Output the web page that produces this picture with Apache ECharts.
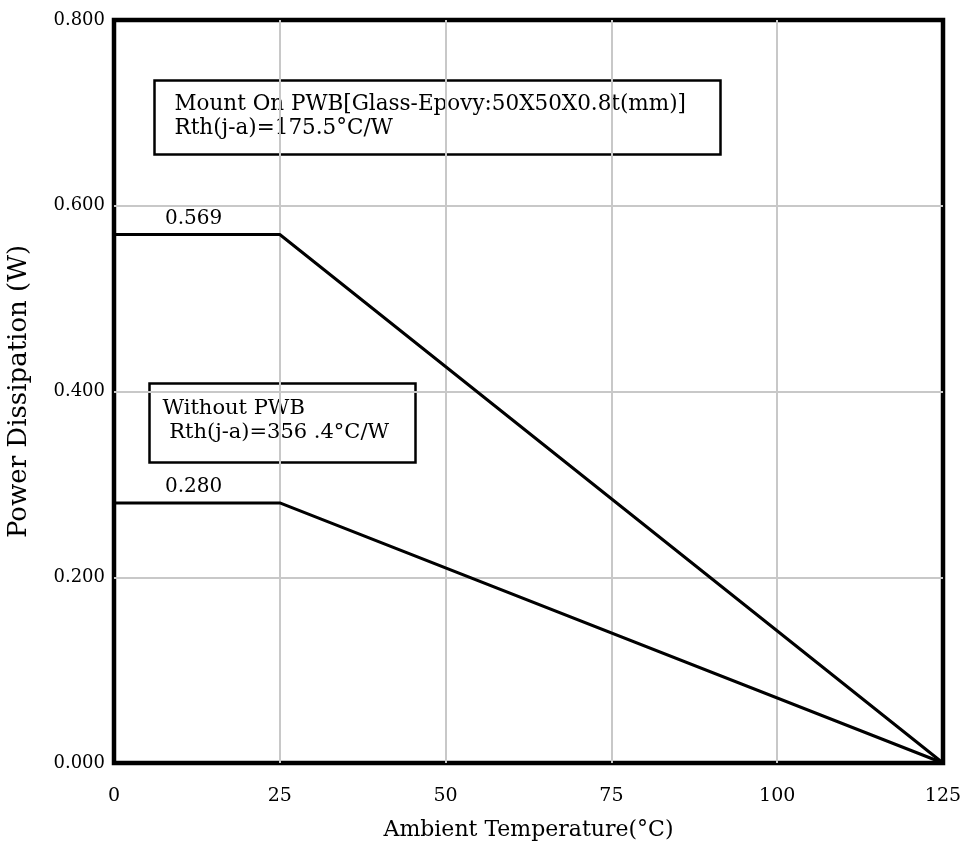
<!DOCTYPE html>
<html>
<head>
<meta charset="utf-8">
<script src="https://cdn.jsdelivr.net/npm/echarts@6/dist/echarts.min.js"></script>
<style>
  html, body { margin: 0; padding: 0; background: #fff; }
  #chart { width: 972px; height: 853px; }
</style>
</head>
<body>
<div id="chart"></div>
<script>
// 温度 (°C) 与功耗 (W)
const temps = [0, 25, 125]
const mountOnPwb = [0.569, 0.569, 0]
const withoutPwb = [0.280, 0.280, 0]
const xTicks = [0, 25, 50, 75, 100, 125]
const yTicks = [0, 0.2, 0.4, 0.6, 0.8]

const FONT = 'DejaVu Serif'

function toPairs(xs, ys) {
  return xs.map((x, i) => [x, ys[i]])
}

// 平台段上方的数值标注
function valueLabel(x, y, text) {
  return {
    coord: [x, y],
    symbol: 'circle',
    symbolSize: 0,
    label: {
      show: true, formatter: text, position: 'top', distance: 6,
      color: '#000', fontFamily: FONT, fontSize: 20
    }
  }
}

const chart = echarts.init(document.getElementById('chart'))

chart.setOption({
  animation: false,
  grid: {
    left: 114, right: 29, top: 20, bottom: 90,
    outerBoundsMode: 'none',
    containLabel: false,
    show: true, borderColor: '#000', borderWidth: 4.5, backgroundColor: 'transparent'
  },
  xAxis: {
    type: 'value', min: xTicks[0], max: xTicks[xTicks.length - 1], interval: 25,
    axisLine: { show: false },
    axisTick: { show: false },
    axisLabel: { color: '#000', fontFamily: FONT, fontSize: 19, margin: 24 },
    splitLine: {
      show: true, showMinLine: false, showMaxLine: false,
      lineStyle: { color: '#c8c8c8', width: 2 }
    },
    name: 'Ambient Temperature(°C)',
    nameLocation: 'middle', nameGap: 56,
    nameTextStyle: { color: '#000', fontFamily: FONT, fontSize: 22 }
  },
  yAxis: {
    type: 'value', min: yTicks[0], max: yTicks[yTicks.length - 1], interval: 0.2,
    axisLine: { show: false },
    axisTick: { show: false },
    axisLabel: {
      color: '#000', fontFamily: FONT, fontSize: 18, margin: 9,
      formatter: v => v.toFixed(3)
    },
    splitLine: {
      show: true, showMinLine: false, showMaxLine: false,
      lineStyle: { color: '#c8c8c8', width: 2 }
    },
    name: 'Power Dissipation (W)',
    nameLocation: 'middle', nameGap: 82,
    nameTextStyle: { color: '#000', fontFamily: FONT, fontSize: 26 }
  },
  series: [
    {
      name: 'Mount On PWB', type: 'line', data: toPairs(temps, mountOnPwb),
      showSymbol: false, lineStyle: { color: '#000', width: 3 },
      markPoint: { data: [valueLabel(12, 0.569, '0.569')] }
    },
    {
      name: 'Without PWB', type: 'line', data: toPairs(temps, withoutPwb),
      showSymbol: false, lineStyle: { color: '#000', width: 3 },
      markPoint: { data: [valueLabel(12, 0.280, '0.280')] }
    }
  ],
  graphic: [
    {
      type: 'group', left: 152, top: 78,
      children: [
        { type: 'rect', shape: { x: 0, y: 0, width: 566, height: 74 },
          style: { fill: 'none', stroke: '#000', lineWidth: 2.5 } },
        { type: 'text', x: 20, y: 12,
          style: { text: 'Mount On PWB[Glass-Epovy:50X50X0.8t(mm)]\nRth(j-a)=175.5°C/W',
                   font: '21.5px "' + FONT + '"', fill: '#000', lineHeight: 24 } }
      ]
    },
    {
      type: 'group', left: 147, top: 381,
      children: [
        { type: 'rect', shape: { x: 0, y: 0, width: 266, height: 79 },
          style: { fill: 'none', stroke: '#000', lineWidth: 2.5 } },
        { type: 'text', x: 13, y: 13,
          style: { text: 'Without PWB\n Rth(j-a)=356 .4°C/W',
                   font: '21px "' + FONT + '"', fill: '#000', lineHeight: 24 } }
      ]
    }
  ]
})
</script>
</body>
</html>
